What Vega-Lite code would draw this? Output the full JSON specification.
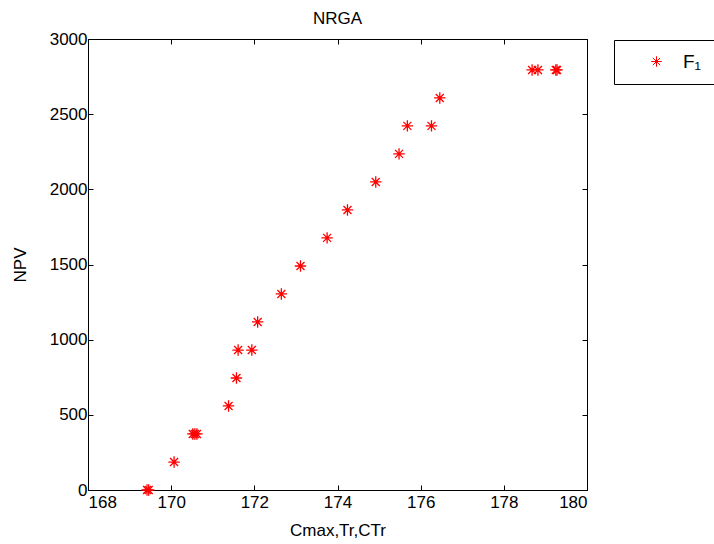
{
  "$schema": "https://vega.github.io/schema/vega-lite/v6.json",
  "width": 499,
  "height": 451,
  "autosize": {"type": "none"},
  "padding": {"left": 88, "top": 39, "right": 127, "bottom": 54},
  "background": "white",
  "title": {"text": "NRGA", "font": "Liberation Sans", "fontSize": 17, "fontWeight": "normal", "color": "black", "offset": 2},
  "config": {
    "view": {"stroke": "black", "strokeWidth": 1},
    "axis": {
      "grid": false,
      "domainColor": "black",
      "tickColor": "black",
      "tickSize": -5,
      "labelFont": "Liberation Sans",
      "labelFontSize": 17,
      "labelColor": "black",
      "titleFont": "Liberation Sans",
      "titleFontSize": 17,
      "titleFontWeight": "normal",
      "titleColor": "black"
    }
  },
  "data": {
    "values": [
      {"x": 169.42, "y": 0, "s": "F₁"},
      {"x": 169.46, "y": 0, "s": "F₁"},
      {"x": 170.07, "y": 186, "s": "F₁"},
      {"x": 170.52, "y": 373, "s": "F₁"},
      {"x": 170.57, "y": 373, "s": "F₁"},
      {"x": 170.62, "y": 373, "s": "F₁"},
      {"x": 171.38, "y": 559, "s": "F₁"},
      {"x": 171.57, "y": 745, "s": "F₁"},
      {"x": 171.61, "y": 931, "s": "F₁"},
      {"x": 171.94, "y": 931, "s": "F₁"},
      {"x": 172.08, "y": 1118, "s": "F₁"},
      {"x": 172.65, "y": 1304, "s": "F₁"},
      {"x": 173.11, "y": 1490, "s": "F₁"},
      {"x": 173.75, "y": 1677, "s": "F₁"},
      {"x": 174.24, "y": 1863, "s": "F₁"},
      {"x": 174.92, "y": 2049, "s": "F₁"},
      {"x": 175.48, "y": 2236, "s": "F₁"},
      {"x": 175.68, "y": 2422, "s": "F₁"},
      {"x": 176.26, "y": 2422, "s": "F₁"},
      {"x": 176.46, "y": 2608, "s": "F₁"},
      {"x": 178.68, "y": 2794, "s": "F₁"},
      {"x": 178.82, "y": 2794, "s": "F₁"},
      {"x": 179.25, "y": 2794, "s": "F₁"},
      {"x": 179.28, "y": 2794, "s": "F₁"}
    ]
  },
  "layer": [
    {
      "mark": {
        "type": "point",
        "shape": "M0,-1L0,1M-1,0L1,0M-0.7,-0.7L0.7,0.7M-0.7,0.7L0.7,-0.7",
        "filled": false,
        "strokeWidth": 1.3,
        "size": 130,
        "opacity": 1
      },
      "encoding": {
        "x": {
          "field": "x", "type": "quantitative",
          "scale": {"domain": [168, 180], "nice": false, "zero": false},
          "axis": {"title": "Cmax,Tr,CTr", "format": "d", "values": [168, 170, 172, 174, 176, 178, 180], "titlePadding": 12, "labelPadding": 9}
        },
        "y": {
          "field": "y", "type": "quantitative",
          "scale": {"domain": [0, 3000], "nice": false},
          "axis": {"title": "NPV", "format": "d", "values": [0, 500, 1000, 1500, 2000, 2500, 3000], "titlePadding": 20, "labelPadding": 6}
        },
        "color": {
          "field": "s", "type": "nominal",
          "scale": {"range": ["red"]},
          "legend": {
            "title": null,
            "orient": "none",
            "legendX": 526,
            "legendY": 1,
            "strokeColor": "black",
            "padding": 12,
            "symbolType": "M0,-1L0,1M-1,0L1,0M-0.7,-0.7L0.7,0.7M-0.7,0.7L0.7,-0.7",
            "symbolSize": 110,
            "symbolStrokeWidth": 1,
            "symbolFillColor": "transparent",
            "labelFont": "Liberation Sans",
            "labelFontSize": 19,
            "labelColor": "black",
            "labelOffset": 17,
            "rowPadding": 0,
            "symbolOffset": 21
          }
        }
      }
    },
    {
      "mark": {"type": "point", "opacity": 0},
      "encoding": {
        "x": {"field": "x", "type": "quantitative", "axis": {"orient": "top", "labels": false, "domain": false, "title": null, "values": [168, 170, 172, 174, 176, 178, 180]}},
        "y": {"field": "y", "type": "quantitative", "axis": {"orient": "right", "labels": false, "domain": false, "title": null, "values": [0, 500, 1000, 1500, 2000, 2500, 3000]}}
      }
    }
  ],
  "resolve": {"axis": {"x": "independent", "y": "independent"}}
}
